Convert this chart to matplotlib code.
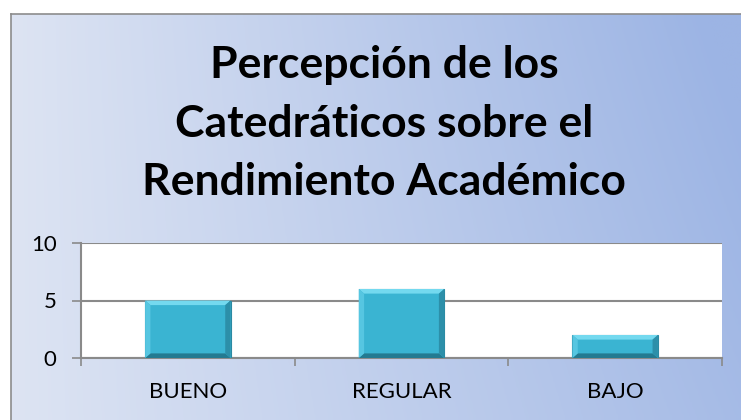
import matplotlib.pyplot as plt
import numpy as np
from matplotlib.patches import Polygon

categories = ["BUENO", "REGULAR", "BAJO"]
values = [5, 6, 2]
yticks = [0, 5, 10]
title_lines = ["Percepción de los", "Catedráticos sobre el", "Rendimiento Académico"]

plt.rcParams['font.family'] = ['Lato', 'DejaVu Sans']

W, H = 741, 420
fig = plt.figure(figsize=(W / 100, H / 100), dpi=100)
fig.patch.set_facecolor('white')

# gradient background panel with a thin border
bg = fig.add_axes([11 / W, 0, 1 - 11 / W, 1 - 14 / H])
gx = np.linspace(0, 1, 256)
gy = np.linspace(0, 1, 64)
X, Y = np.meshgrid(gx, gy)
t = np.clip(0.85 * X + 0.2 * (1 - Y) * X, 0, 1)
c0 = np.array([0xdd, 0xe4, 0xf3]) / 255
c1 = np.array([0x9c, 0xb4, 0xe4]) / 255
img = c0 * (1 - t[..., None]) + c1 * t[..., None]
bg.imshow(img, aspect='auto', extent=[0, 1, 0, 1], origin='upper')
bg.set_xlim(0, 1)
bg.set_ylim(0, 1)
bg.set_xticks([])
bg.set_yticks([])
for s in bg.spines.values():
    s.set_color('#8c8c8c')
    s.set_linewidth(1.2)
bg.spines['right'].set_visible(False)
bg.spines['bottom'].set_visible(False)

# title, one line per baseline
for line, yb in zip(title_lines, [78, 137, 195]):
    fig.text(384 / W, 1 - yb / H, line, ha='center', va='baseline',
             fontsize=32, fontweight='bold', color='black')

# plot area
ax = fig.add_axes([81 / W, 1 - 358 / H, (722 - 81) / W, (358 - 243) / H])
ax.set_facecolor('white')
x = np.arange(len(categories))
bars = ax.bar(x, values, width=0.4, color='#3ab4d2', edgecolor='#2b8aa3',
              linewidth=0.8, zorder=3)

# soft bevel on each bar
bx, by = 0.025, 0.4
for b in bars:
    x0, y0 = b.get_x(), b.get_y()
    x1, y1 = x0 + b.get_width(), y0 + b.get_height()
    ix0, ix1 = x0 + bx, x1 - bx
    iy0, iy1 = y0 + by, y1 - by
    faces = [
        ([(x0, y1), (x1, y1), (ix1, iy1), (ix0, iy1)], '#74d9ef'),
        ([(x0, y0), (x1, y0), (ix1, iy0), (ix0, iy0)], '#237a91'),
        ([(x0, y0), (x0, y1), (ix0, iy1), (ix0, iy0)], '#56c6e1'),
        ([(x1, y0), (x1, y1), (ix1, iy1), (ix1, iy0)], '#2c8fa9'),
    ]
    for pts, col in faces:
        ax.add_patch(Polygon(pts, closed=True, facecolor=col, lw=0, zorder=4))

ax.set_xlim(-0.5, len(categories) - 0.5)
ax.set_ylim(0, 10)
ax.set_yticks(yticks)
ax.yaxis.grid(True, color='#8a8a8a', linewidth=1.5, zorder=1)
ax.set_xticks(x)
ax.set_xticklabels(categories, fontsize=16)
ax.set_xticks(np.arange(-0.5, len(categories)), minor=True)
ax.tick_params(axis='x', which='major', length=0, pad=17)
ax.tick_params(axis='x', which='minor', length=6, color='#8a8a8a', width=1.2)
ax.tick_params(axis='y', length=6.5, color='#8a8a8a', width=1.2, labelsize=16, pad=11)
for side in ['top', 'right']:
    ax.spines[side].set_visible(False)
ax.spines['left'].set_color('#8a8a8a')
ax.spines['left'].set_linewidth(1.5)
ax.spines['bottom'].set_color('#8a8a8a')
ax.spines['bottom'].set_linewidth(1.5)

fig.savefig('out.png', dpi=100)
